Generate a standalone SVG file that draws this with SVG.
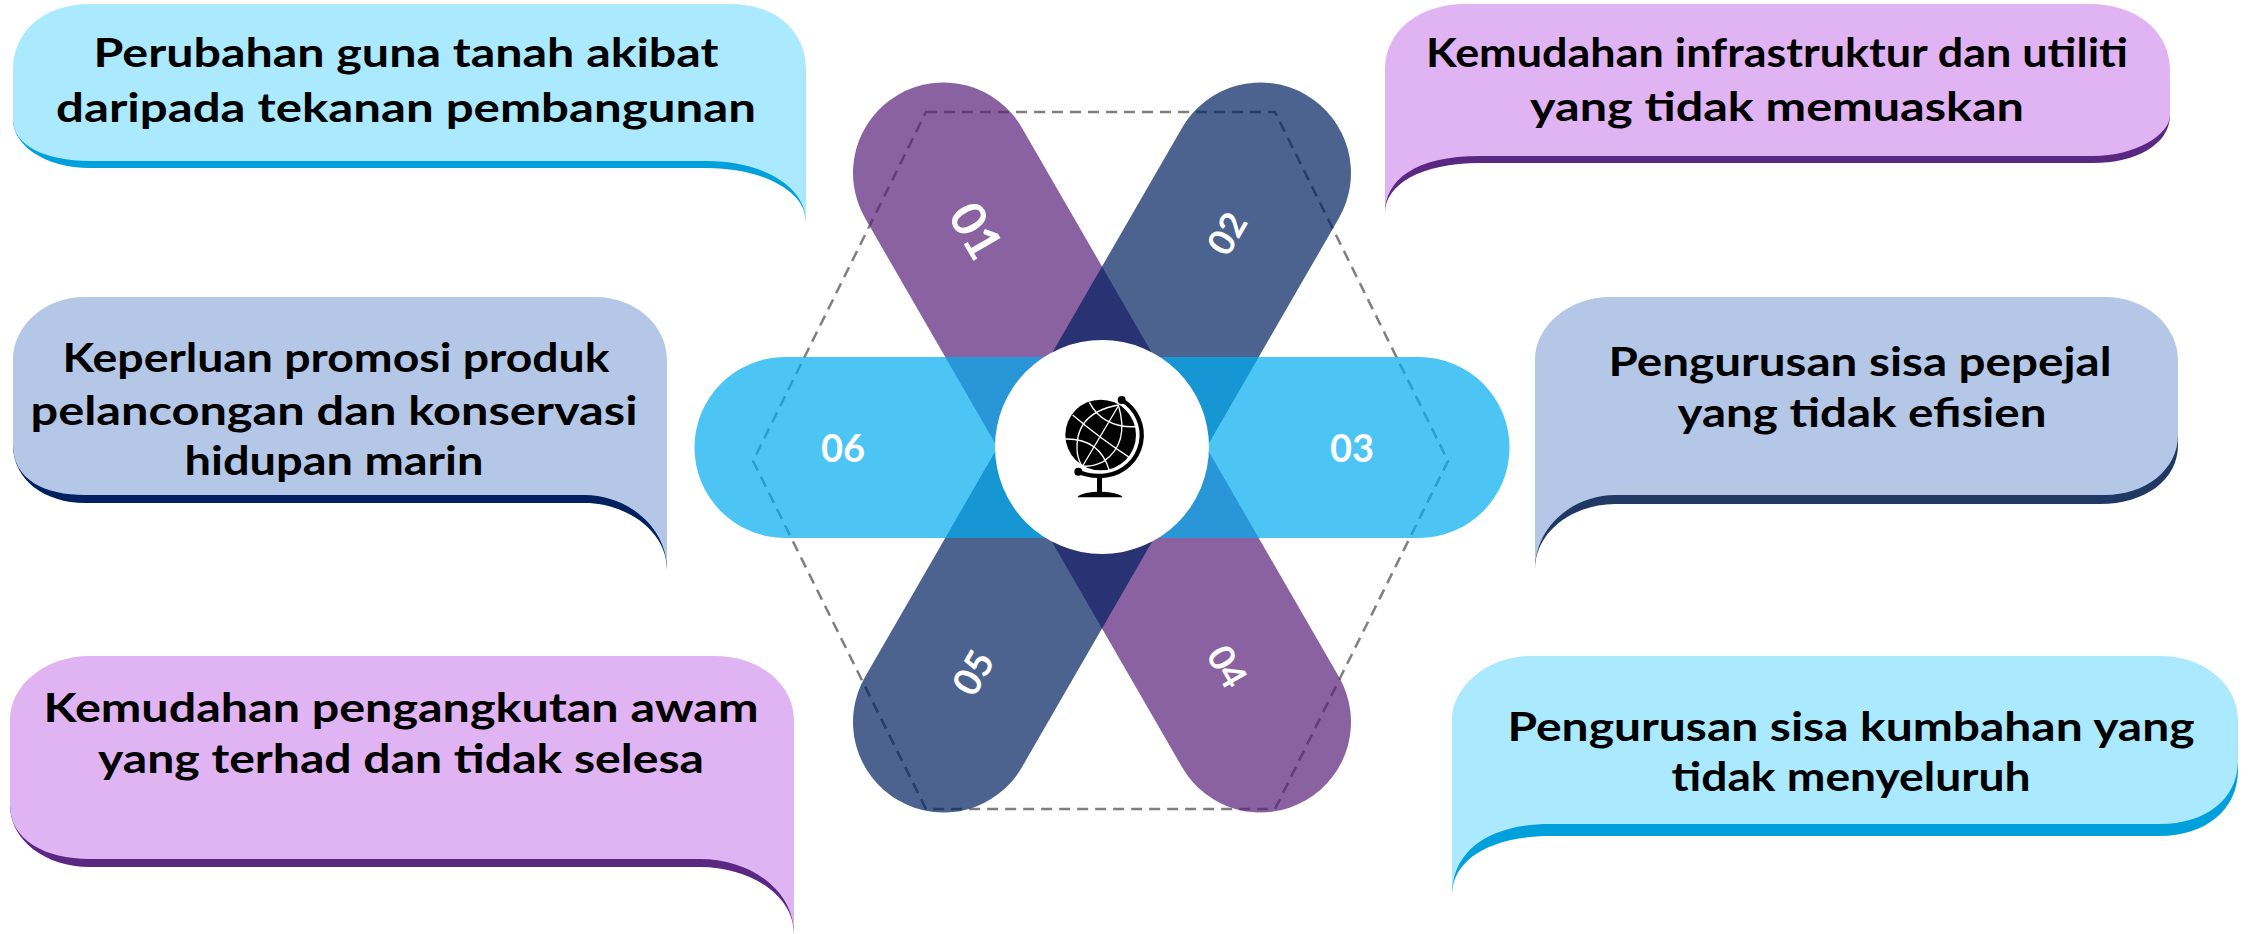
<svg xmlns="http://www.w3.org/2000/svg" width="2252" height="934" viewBox="0 0 2252 934">
<style>
.t{font-family:"Lato","Liberation Sans",sans-serif;font-weight:700;font-size:41px;fill:#000;text-anchor:middle}
.n{font-family:"Lato","Liberation Sans",sans-serif;font-weight:700;font-size:38px;fill:#fff;text-anchor:middle;dominant-baseline:central}
.pill{fill:none;stroke-width:181;stroke-linecap:round;stroke-opacity:.7}
.c1{fill:#ABE9FF}.d1{fill:#00A0DC}
.c2{fill:#E0B3F2}.d2{fill:#5A2782}
.c3{fill:#B4C7E7}.d3{fill:#002060}.d4{fill:#1F3864}
.w{fill:none;stroke:#fff;stroke-width:4}
</style>
<g id="connectors">
<path id="hexagon" d="M926 112H1275L1448 461L1275 809H926L753 461Z" fill="none" stroke="#7F7F7F" stroke-width="2.500" stroke-dasharray="11 7"/>
</g>
<g id="bars" transform="translate(1102 447.500)">
<line id="bar-01-04" class="pill" stroke="#58207A" x1="-158.500" y1="-274.500" x2="158.500" y2="274.500"/>
<line id="bar-02-05" class="pill" stroke="#002060" x1="158.500" y1="-274.500" x2="-158.500" y2="274.500"/>
<line id="bar-06-03" class="pill" stroke="#00ADF0" x1="-317" y1="0" x2="317" y2="0"/>
</g>
<g id="hub">
<circle cx="1102" cy="447" r="107" fill="#fff"/>
<g id="globe" transform="translate(990 370) scale(.33333)">
<circle cx="332" cy="195" r="106" fill="#000"/>
<path class="w" d="M385 108L278 288M248 135Q330 205 418 262M298 97Q340 175 440 170M226 207Q330 205 358 302M385 105Q250 130 262 250Q268 280 278 288M385 105Q420 220 340 275Q305 292 278 288"/>
<path d="M395 90A122 122 0 0 1 350 316Q300 322 265 305" fill="none" stroke="#000" stroke-width="13" stroke-linecap="round"/>
<circle cx="395" cy="90" r="12" fill="#000"/><circle cx="265" cy="305" r="12" fill="#000"/>
<path d="M321 315H336V365Q390 368 398 382H262Q270 368 321 365Z" fill="#000"/>
</g>
</g>
<g id="n01"><text class="n" style="font-size:48px" transform="translate(977 230) rotate(60)">01</text></g>
<g id="n02"><text class="n" style="font-size:36px" transform="translate(1226 233) rotate(-60)">02</text></g>
<g id="n03"><text class="n" x="1352" y="447">03</text></g>
<g id="n04"><text class="n" style="font-size:36px" transform="translate(1228 666) rotate(60)">04</text></g>
<g id="n05"><text class="n" transform="translate(972 672) rotate(-60)">05</text></g>
<g id="n06"><text class="n" x="843" y="447">06</text></g>

<g id="b1">
<path class="d1" d="M13 120C13 145 45 168 90 168H707C760 168 806 190 806 222V120Z"/>
<path class="c1" d="M13 120V70C13 30 45 4 90 4H730C775 4 806 30 806 70V222C806 185 760 161 707 161H90C45 161 13 145 13 120Z"/>
<text class="t" x="406" y="67" textLength="625" lengthAdjust="spacingAndGlyphs">Perubahan guna tanah akibat</text>
<text class="t" x="406" y="122" textLength="700" lengthAdjust="spacingAndGlyphs">daripada tekanan pembangunan</text>
</g>
<g id="b2">
<path class="d2" d="M1385 213C1385 185 1420 163 1480 163H2093C2135 163 2170 145 2170 115V100H1385Z"/>
<path class="c2" d="M1385 213V70C1385 30 1420 4 1465 4H2090C2135 4 2170 30 2170 70V115C2170 135 2135 156 2093 156H1480C1415 156 1385 180 1385 213Z"/>
<text class="t" x="1777" y="67" textLength="702" lengthAdjust="spacingAndGlyphs">Kemudahan infrastruktur dan utiliti</text>
<text class="t" x="1777" y="121" textLength="494" lengthAdjust="spacingAndGlyphs">yang tidak memuaskan</text>
</g>
<g id="b3">
<path class="d3" d="M13 445C13 480 45 503 85 503H585C625 503 667 530 667 570V430H13Z"/>
<path class="c3" d="M13 445V360C13 325 45 297 85 297H595C635 297 667 325 667 360V570C667 525 625 495 585 495H85C45 495 13 480 13 445Z"/>
<text class="t" x="336" y="372" textLength="547" lengthAdjust="spacingAndGlyphs">Keperluan promosi produk</text>
<text class="t" x="334" y="425" textLength="607" lengthAdjust="spacingAndGlyphs">pelancongan dan konservasi</text>
<text class="t" x="334" y="475" textLength="299" lengthAdjust="spacingAndGlyphs">hidupan marin</text>
</g>
<g id="b4">
<path class="d4" d="M1535 570C1535 530 1575 504 1615 504H2100C2145 504 2178 480 2178 445V430H1535Z"/>
<path class="c3" d="M1535 570V360C1535 325 1570 297 1610 297H2105C2145 297 2178 325 2178 360V435C2178 470 2145 495 2105 495H1615C1575 495 1535 525 1535 570Z"/>
<text class="t" x="1860" y="376" textLength="503" lengthAdjust="spacingAndGlyphs">Pengurusan sisa pepejal</text>
<text class="t" x="1862" y="427" textLength="369" lengthAdjust="spacingAndGlyphs">yang tidak efisien</text>
</g>
<g id="b5">
<path class="d2" d="M10 805C10 840 45 867 90 867H700C750 867 794 895 794 934V790H10Z"/>
<path class="c2" d="M10 805V720C10 685 45 656 90 656H715C760 656 794 685 794 720V934C794 890 750 859 700 859H90C45 859 10 840 10 805Z"/>
<text class="t" x="401" y="722" textLength="715" lengthAdjust="spacingAndGlyphs">Kemudahan pengangkutan awam</text>
<text class="t" x="401" y="773" textLength="606" lengthAdjust="spacingAndGlyphs">yang terhad dan tidak selesa</text>
</g>
<g id="b6">
<path class="d1" d="M1452 895C1452 860 1490 836 1550 836H2160C2205 836 2238 810 2238 770V755H1452Z"/>
<path class="c1" d="M1452 895V720C1452 685 1490 656 1530 656H2160C2205 656 2238 685 2238 720V760C2238 800 2205 824 2160 824H1550C1490 824 1452 850 1452 895Z"/>
<text class="t" x="1851" y="741" textLength="687" lengthAdjust="spacingAndGlyphs">Pengurusan sisa kumbahan yang</text>
<text class="t" x="1851" y="791" textLength="359" lengthAdjust="spacingAndGlyphs">tidak menyeluruh</text>
</g>
</svg>
